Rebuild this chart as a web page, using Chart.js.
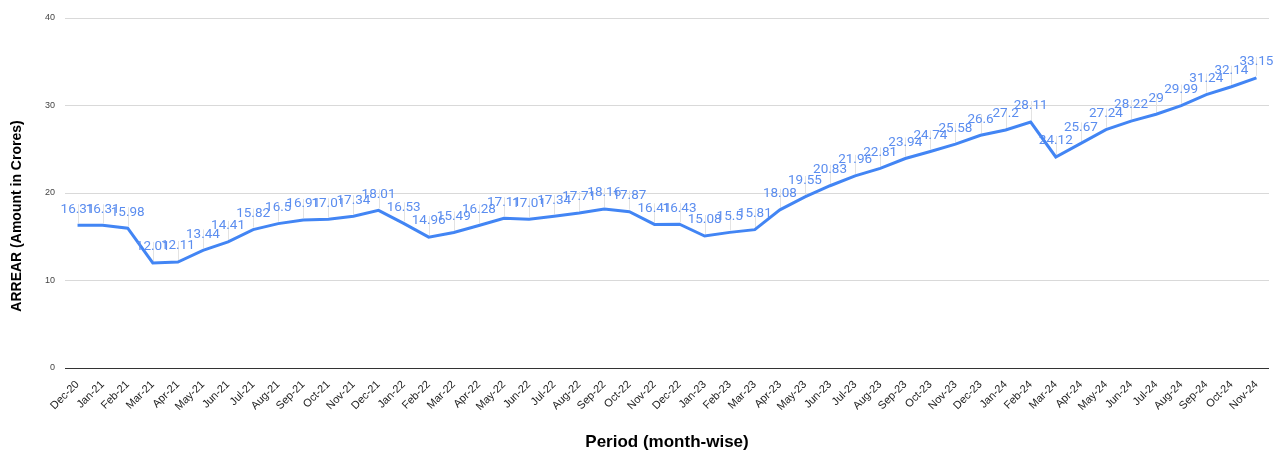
<!DOCTYPE html>
<html lang="en">
<head>
  <meta charset="UTF-8">
  <title>Arrear trend</title>
  <script src="https://cdn.jsdelivr.net/npm/chart.js"></script>
  <style>
    html, body { margin: 0; padding: 0; background: #fff; }
    #wrap { width: 1273px; height: 455px; }
  </style>
</head>
<body>
  <div id="wrap"><canvas id="chart"></canvas></div>
  <script>
    const months = [
      "Dec-20", "Jan-21", "Feb-21", "Mar-21", "Apr-21", "May-21", "Jun-21", "Jul-21",
      "Aug-21", "Sep-21", "Oct-21", "Nov-21", "Dec-21", "Jan-22", "Feb-22", "Mar-22",
      "Apr-22", "May-22", "Jun-22", "Jul-22", "Aug-22", "Sep-22", "Oct-22", "Nov-22",
      "Dec-22", "Jan-23", "Feb-23", "Mar-23", "Apr-23", "May-23", "Jun-23", "Jul-23",
      "Aug-23", "Sep-23", "Oct-23", "Nov-23", "Dec-23", "Jan-24", "Feb-24", "Mar-24",
      "Apr-24", "May-24", "Jun-24", "Jul-24", "Aug-24", "Sep-24", "Oct-24", "Nov-24"
    ];
    const arrear = [
      16.31, 16.31, 15.98, 12.01, 12.11, 13.44, 14.41, 15.82,
      16.5, 16.91, 17.01, 17.34, 18.01, 16.53, 14.96, 15.49,
      16.28, 17.11, 17.01, 17.34, 17.71, 18.16, 17.87, 16.41,
      16.43, 15.08, 15.5, 15.81, 18.08, 19.55, 20.83, 21.96,
      22.81, 23.94, 24.74, 25.58, 26.6, 27.2, 28.11, 24.12,
      25.67, 27.24, 28.22, 29, 29.99, 31.24, 32.14, 33.15
    ];
    const yTicks = [0, 10, 20, 30, 40];
    const yTitle = "ARREAR (Amount in Crores)";

    // value labels above each point, with a faint leader line
    const pointLabels = {
      id: "pointLabels",
      beforeDatasetsDraw(chart) {
        const ctx = chart.ctx;
        const meta = chart.getDatasetMeta(0);
        ctx.save();
        ctx.strokeStyle = "#e3e3e3";
        ctx.lineWidth = 1;
        meta.data.forEach((pt) => {
          const x = Math.round(pt.x) + 0.5;
          ctx.beginPath();
          ctx.moveTo(x, pt.y - 2);
          ctx.lineTo(x, pt.y - 21);
          ctx.stroke();
        });
        ctx.restore();
      },
      afterDatasetsDraw(chart) {
        const ctx = chart.ctx;
        const meta = chart.getDatasetMeta(0);
        const values = chart.data.datasets[0].data;
        ctx.save();
        ctx.font = "13.5px Roboto";
        ctx.fillStyle = "#5b8def";
        ctx.textAlign = "center";
        ctx.textBaseline = "middle";
        meta.data.forEach((pt, i) => {
          ctx.fillText(String(values[i]), pt.x, pt.y - 16);
        });
        ctx.restore();
      }
    };

    // y axis title sits a bit lower than the plot centre in the original
    const sideTitle = {
      id: "sideTitle",
      afterDraw(chart) {
        const ctx = chart.ctx;
        ctx.save();
        ctx.translate(17, 216);
        ctx.rotate(-Math.PI / 2);
        ctx.font = "bold 14px 'Liberation Sans'";
        ctx.fillStyle = "#000";
        ctx.textAlign = "center";
        ctx.textBaseline = "middle";
        ctx.fillText(yTitle, 0, 0);
        ctx.restore();
      }
    };

    new Chart(document.getElementById("chart"), {
      type: "line",
      data: {
        labels: months,
        datasets: [{
          data: arrear,
          borderColor: "#4285f4",
          borderWidth: 3,
          pointRadius: 0,
          tension: 0,
          fill: false
        }]
      },
      options: {
        responsive: true,
        maintainAspectRatio: false,
        animation: false,
        layout: { padding: { top: 18, right: 4, bottom: 0, left: 0 } },
        plugins: {
          legend: { display: false },
          tooltip: { enabled: false }
        },
        scales: {
          x: {
            offset: true,
            grid: { display: false },
            border: { display: false },
            ticks: {
              autoSkip: false,
              minRotation: 45,
              maxRotation: 45,
              color: "#222",
              font: { family: "Liberation Sans", size: 11 },
              padding: 2
            },
            title: {
              display: true,
              text: "Period (month-wise)",
              color: "#000",
              font: { family: "Liberation Sans", size: 17, weight: "bold" },
              padding: { top: 0, bottom: 2 }
            },
            afterFit(scale) { scale.height = 87; }
          },
          y: {
            min: 0,
            max: 40,
            afterBuildTicks(scale) {
              scale.ticks = yTicks.map((v) => ({ value: v }));
            },
            grid: {
              drawTicks: false,
              color: (c) => (c.tick && c.tick.value === 0 ? "#333" : "#d9d9d9"),
              lineWidth: 1
            },
            border: { display: false },
            ticks: {
              color: "#444",
              font: { family: "Liberation Sans", size: 9 },
              padding: 10
            },
            afterFit(scale) { scale.width = 65; }
          }
        }
      },
      plugins: [pointLabels, sideTitle]
    });
  </script>
</body>
</html>
